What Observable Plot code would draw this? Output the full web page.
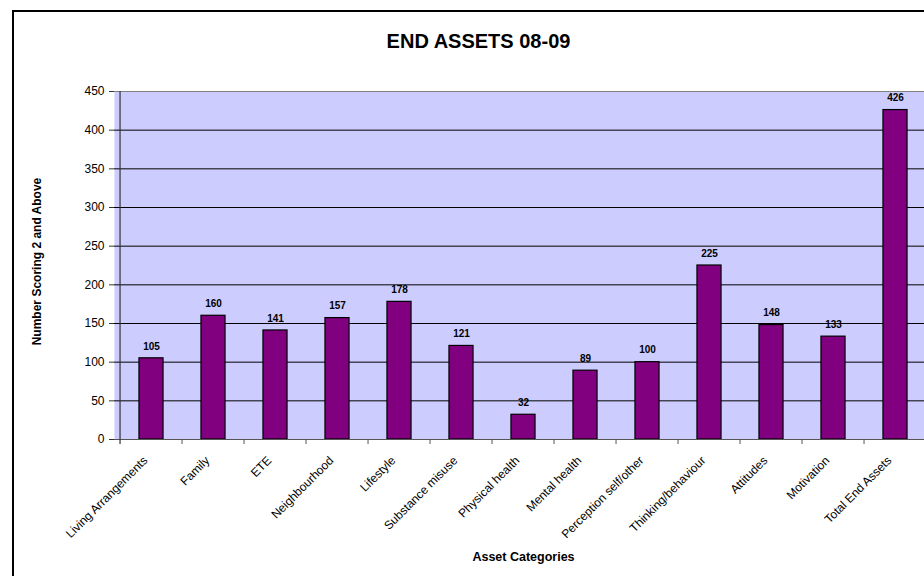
<!DOCTYPE html>
<html>
<head>
<meta charset="utf-8">
<script src="https://cdn.jsdelivr.net/npm/d3@7"></script>
<script src="https://cdn.jsdelivr.net/npm/@observablehq/plot@0.6"></script>
<style>
  html, body { margin: 0; padding: 0; background: #fff; overflow: hidden; width: 924px; height: 576px; }
  #wrap { position: relative; width: 924px; height: 576px; overflow: hidden; }
  #border { position: absolute; left: 12px; top: 10px; width: 1000px; height: 1000px; border: 2px solid #000; box-sizing: border-box; pointer-events: none; }
  #chart { position: absolute; left: 0; top: 0; width: 940px; }
  #chart svg { max-width: none !important; }
</style>
</head>
<body>
<div id="wrap">
  <div id="chart"></div>
  <div id="border"></div>
</div>
<script>
const title = "END ASSETS 08-09";
const xTitle = "Asset Categories";
const yTitle = "Number Scoring 2 and Above";
const categories = ["Living Arrangements", "Family", "ETE", "Neighbourhood", "Lifestyle", "Substance misuse", "Physical health", "Mental health", "Perception self/other", "Thinking/behaviour", "Attitudes", "Motivation", "Total End Assets"];
const values = [105, 160, 141, 157, 178, 121, 32, 89, 100, 225, 148, 133, 426];
const yTicks = [0, 50, 100, 150, 200, 250, 300, 350, 400, 450];

const data = categories.map((c, i) => ({cat: c, value: values[i]}));

const W = 940, H = 576;
const mL = 114, mR = 8, mT = 91, mB = 137;
const step = (W - mL - mR) / categories.length;
const half = step / 2;
const barInset = (step - 25) / 2;
const font = "'Liberation Sans', Arial, sans-serif";

const chart = Plot.plot({
  width: W,
  height: H,
  marginLeft: mL,
  marginRight: mR,
  marginTop: mT,
  marginBottom: mB,
  style: {fontFamily: font, background: "transparent", color: "#000", overflow: "visible", maxWidth: "none"},
  x: {type: "band", domain: categories, padding: 0, axis: null},
  y: {domain: [0, 450], axis: null},
  marks: [
    Plot.frame({fill: "#CCCCFF", stroke: null}),
    Plot.ruleY(yTicks.filter(t => t > 0 && t < 450), {stroke: "#000", strokeWidth: 1}),
    Plot.ruleY([450], {stroke: "#808080", strokeWidth: 1}),
    Plot.barY(data, {x: "cat", y: "value", fill: "#800080", stroke: "#000", strokeWidth: 1.2, insetLeft: barInset, insetRight: barInset}),
    Plot.ruleY([0], {stroke: "#555", strokeWidth: 1.2}),
    Plot.ruleX([categories[0]], {x: d => d, dx: -half, y1: -6.5, y2: 450, stroke: "#333", strokeWidth: 1.2}),
    Plot.ruleX(categories.slice(1), {x: d => d, dx: -half, y1: -6.5, y2: 0, stroke: "#555", strokeWidth: 1}),
    Plot.axisY({ticks: yTicks, tickSize: 5, tickPadding: 5, fontSize: 12, stroke: "#333", label: null, fill: "#000"}),
    Plot.text(data, {x: "cat", y: "value", text: d => String(d.value), dy: -12, fontSize: 10, fontWeight: "bold", fill: "#000", lineAnchor: "middle"}),
    Plot.text(categories, {x: d => d, frameAnchor: "bottom", text: d => d, rotate: -45, textAnchor: "end", lineAnchor: "middle", dx: -6, dy: 19, fontSize: 12, fill: "#000"}),
    Plot.text([title], {frameAnchor: "top", textAnchor: "middle", lineAnchor: "middle", dx: -45, dy: -50, text: d => d, fontSize: 20, fontWeight: "bold", fill: "#000"}),
    Plot.text([xTitle], {frameAnchor: "bottom", textAnchor: "middle", lineAnchor: "middle", dy: 117.5, text: d => d, fontSize: 12.5, fontWeight: "bold", fill: "#000"}),
    Plot.text([yTitle], {frameAnchor: "left", textAnchor: "middle", lineAnchor: "middle", dx: -77, dy: -4, rotate: -90, text: d => d, fontSize: 12, fontWeight: "bold", fill: "#000"})
  ]
});
document.getElementById("chart").appendChild(chart);
</script>
</body>
</html>
